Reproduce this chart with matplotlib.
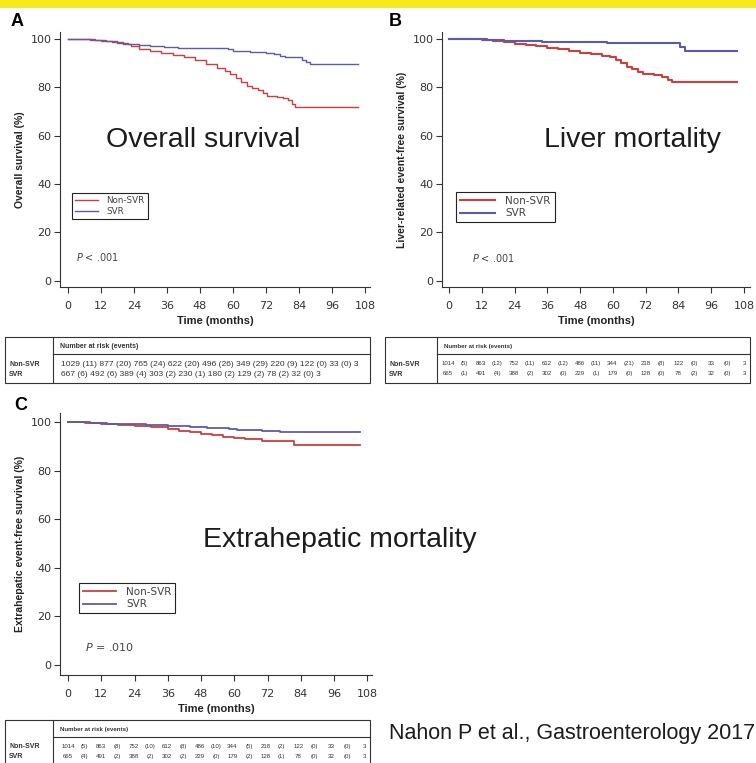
import matplotlib
matplotlib.use("Agg")
import matplotlib.pyplot as plt
from matplotlib.patches import Rectangle

W, H = 756, 763
RED = "#d23c3c"
BLUE = "#5a5aae"
INK = "#333333"

# Kaplan-Meier step points (months, % event-free), one pair per group and panel
months_end = 105.5

os_nonsvr_t = [0, 4, 8, 12, 16, 20, 23, 26, 30, 34, 38, 42, 46, 50, 54, 57, 59, 61, 63, 65, 67, 69, 71, 72.5, 76, 78, 80, 81.5, 82.5]
os_nonsvr_s = [100, 99.8, 99.5, 99.0, 98.4, 97.8, 97.0, 95.8, 95.0, 94.2, 93.2, 92.2, 91.0, 89.6, 88.0, 86.6, 85.4, 83.8, 82.0, 80.4, 79.6, 78.6, 77.6, 76.3, 76.0, 75.4, 74.6, 73.2, 71.7]
os_svr_t = [0, 6, 10, 14, 18, 22, 26, 30, 35, 40, 46, 52, 58, 60, 62, 66, 72, 75, 77, 79, 85, 86.5, 88]
os_svr_s = [100, 99.7, 99.3, 98.8, 98.2, 97.7, 97.3, 96.9, 96.6, 96.3, 96.1, 95.9, 95.6, 95.0, 94.7, 94.5, 94.2, 93.5, 92.8, 92.3, 91.3, 90.4, 89.7]

liver_nonsvr_t = [0, 8, 12, 16, 20, 24, 28, 32, 36, 40, 44, 48, 52, 56, 59, 61, 63, 65, 67, 69, 71, 75, 78, 80, 81.5]
liver_nonsvr_s = [100, 99.8, 99.5, 99.0, 98.5, 97.8, 97.4, 97.0, 96.3, 95.6, 94.8, 94.0, 93.5, 93.0, 92.2, 91.0, 89.8, 88.2, 87.5, 86.4, 85.4, 85.0, 84.2, 83.0, 82.0]
liver_svr_t = [0, 8, 14, 20, 26, 34, 46, 58, 72, 84.5, 86.5]
liver_svr_s = [100, 99.8, 99.4, 99.0, 98.8, 98.6, 98.5, 98.2, 98.1, 96.5, 94.8]

extra_nonsvr_t = [0, 6, 12, 18, 24, 30, 36, 40, 44, 48, 52, 56, 60, 64, 70, 81.5]
extra_nonsvr_s = [100, 99.6, 99.2, 98.8, 98.3, 97.8, 97.0, 96.4, 95.8, 95.2, 94.6, 93.9, 93.4, 92.9, 92.0, 90.4]
extra_svr_t = [0, 8, 14, 20, 28, 36, 44, 50, 58, 61, 70, 76.5]
extra_svr_s = [100, 99.6, 99.2, 99.0, 98.7, 98.4, 98.0, 97.6, 97.2, 96.6, 96.4, 95.7]

# Number at risk (events) tables
os_nonsvr_risk = [1029, 877, 765, 622, 496, 349, 220, 122, 33, 3]
os_nonsvr_events = [11, 20, 24, 20, 26, 29, 9, 0, 0]
os_svr_risk = [667, 492, 389, 303, 230, 180, 129, 78, 32, 3]
os_svr_events = [6, 6, 4, 2, 1, 2, 2, 2, 0]

liver_nonsvr_risk = [1014, 863, 752, 612, 486, 344, 218, 122, 33, 3]
liver_nonsvr_events = [5, 12, 11, 12, 11, 21, 8, 0, 0]
liver_svr_risk = [665, 491, 388, 302, 229, 179, 128, 78, 32, 3]
liver_svr_events = [1, 4, 2, 0, 1, 0, 0, 2, 0]

extra_nonsvr_risk = [1014, 863, 752, 612, 486, 344, 218, 122, 33, 3]
extra_nonsvr_events = [5, 8, 10, 8, 10, 5, 2, 0, 0]
extra_svr_risk = [665, 491, 388, 302, 229, 179, 128, 78, 32, 3]
extra_svr_events = [4, 2, 2, 2, 0, 2, 1, 0, 0]

x_ticks = [0, 12, 24, 36, 48, 60, 72, 84, 96, 108]
y_ticks = [0, 20, 40, 60, 80, 100]


def fx(x):
    return x / W


def fy(y):
    return 1 - y / H


def px_axes(fig, left, top, right, bottom):
    return fig.add_axes([fx(left), fy(bottom), (right - left) / W, (bottom - top) / H])


def km_panel(ax, groups, xlim, ylim, ylabel, lw, tick_fs=8.0):
    for t, s, color, label in groups:
        ax.plot(t + [months_end], s + [s[-1]], drawstyle="steps-post",
                color=color, lw=lw, label=label)
    ax.set_xlim(*xlim)
    ax.set_ylim(*ylim)
    ax.set_xticks(x_ticks)
    ax.set_yticks(y_ticks)
    for side in ("top", "right"):
        ax.spines[side].set_visible(False)
    for side in ("left", "bottom"):
        ax.spines[side].set_color(INK)
        ax.spines[side].set_linewidth(0.8)
    ax.tick_params(axis="x", length=4, width=0.8, color=INK, pad=6,
                   labelsize=tick_fs, labelcolor=INK)
    ax.tick_params(axis="y", length=4, width=0.8, color=INK, pad=2,
                   labelsize=tick_fs, labelcolor=INK)
    ax.set_xlabel("Time (months)", fontsize=8, fontweight="bold",
                  family="Liberation Sans", color="#222222", labelpad=4)
    ax.set_ylabel(ylabel, fontsize=7.5, fontweight="bold",
                  family="Liberation Sans", color="#222222")
    ax.patch.set_alpha(0)


def add_legend(ax, fig, left, top, fs, handlelength):
    leg = ax.legend(loc="upper left", bbox_to_anchor=(fx(left), fy(top)),
                    bbox_transform=fig.transFigure, borderaxespad=0,
                    fontsize=fs, handlelength=handlelength, handletextpad=1.0,
                    labelspacing=0.25, borderpad=0.35, fancybox=False,
                    framealpha=1, edgecolor="#222222")
    leg.get_frame().set_linewidth(0.8)
    for txt in leg.get_texts():
        txt.set_color("#444444")
    return leg


def risk_table(ov, left, top, right, divider, rows, fs, spread, vals_left, vals_right):
    bottom = top + 46
    ov.add_patch(Rectangle((left, top), right - left, bottom - top, fill=False,
                           lw=0.8, ec="#333333"))
    ov.plot([divider, divider], [top, bottom], color="#333333", lw=0.8)
    ov.plot([divider, right], [top + 17, top + 17], color="#333333", lw=0.8)
    ov.text(divider + 7, top + 9, "Number at risk (events)", fontsize=min(fs, 5.0),
            fontweight="bold", family="Liberation Sans", color=INK, va="center_baseline")
    for i, (name, risk, events) in enumerate(rows):
        y = top + 26 + 10 * i
        ov.text(left + 4, y, name, fontsize=5.0, fontweight="bold",
                family="Liberation Sans", color=INK, va="center_baseline")
        items = []
        for k, n in enumerate(risk):
            items.append(str(n))
            if k < len(events):
                items.append(f"({events[k]})")
        if spread:
            step = (vals_right - vals_left) / (len(items) - 1)
            for k, item in enumerate(items):
                ov.text(vals_left + k * step, y, item, fontsize=fs,
                        family="Liberation Sans", color=INK,
                        va="center_baseline", ha="center")
        else:
            parts = [f"{n} ({e})" for n, e in zip(risk, events)] + [str(risk[-1])]
            ov.text(vals_left, y, " ".join(parts), fontsize=fs,
                    family="Liberation Sans", color=INK,
                    va="center_baseline", ha="left")


fig = plt.figure(figsize=(W / 100, H / 100), dpi=100)
fig.patch.set_facecolor("white")

# Panel A: overall survival
ax_a = px_axes(fig, 60, 32, 370, 287)
km_panel(ax_a, [(os_nonsvr_t, os_nonsvr_s, RED, "Non-SVR"),
                (os_svr_t, os_svr_s, BLUE, "SVR")],
         (-2.9, 109.8), (-2.5, 102.7), "Overall survival (%)", 1.0)
add_legend(ax_a, fig, 72, 193, 6.3, 2.6)

# Panel B: liver-related events
ax_b = px_axes(fig, 442, 32, 750, 287)
km_panel(ax_b, [(liver_nonsvr_t, liver_nonsvr_s, RED, "Non-SVR"),
                (liver_svr_t, liver_svr_s, BLUE, "SVR")],
         (-2.6, 110.2), (-2.5, 102.7), "Liver-related event-free survival (%)", 1.5)
add_legend(ax_b, fig, 456, 192, 7.5, 3.4)

# Panel C: extrahepatic events
ax_c = px_axes(fig, 60, 413, 372, 675)
km_panel(ax_c, [(extra_nonsvr_t, extra_nonsvr_s, RED, "Non-SVR"),
                (extra_svr_t, extra_svr_s, BLUE, "SVR")],
         (-2.9, 109.7), (-4.1, 103.7), "Extrahepatic event-free survival (%)", 1.3)
add_legend(ax_c, fig, 79, 583, 7.5, 3.2)

# Overlay in pixel coordinates for labels and tables
ov = fig.add_axes([0, 0, 1, 1], zorder=5)
ov.set_xlim(0, W)
ov.set_ylim(H, 0)
ov.axis("off")
ov.patch.set_alpha(0)

ov.add_patch(Rectangle((0, 0), W, 8, color="#f7ea1a", lw=0))

for letter, x, y in (("A", 11, 21), ("B", 389, 21), ("C", 14, 405)):
    ov.text(x, y, letter, fontsize=13, fontweight="bold", family="Liberation Sans",
            color="black", va="center")

big = dict(fontsize=20.5, family="Liberation Sans", color="#1c1c1c", va="center")
ov.text(203, 140, "Overall survival", ha="center", **big)
ov.text(633, 140, "Liver mortality", ha="center", **big)
ov.text(340, 540, "Extrahepatic mortality", ha="center", **big)

pval = dict(family="DejaVu Sans", color="#444444", va="center")
ov.text(76, 257, r"$\it{P}$ < .001", fontsize=7, **pval)
ov.text(472, 258, r"$\it{P}$ < .001", fontsize=7, **pval)
ov.text(85, 647, r"$\it{P}$ = .010", fontsize=8, **pval)

ov.text(389, 733, "Nahon P et al., Gastroenterology 2017", fontsize=15.5,
        family="Liberation Sans", color="#1c1c1c", va="center", ha="left")

risk_table(ov, 5, 337, 370, 53,
           [("Non-SVR", os_nonsvr_risk, os_nonsvr_events),
            ("SVR", os_svr_risk, os_svr_events)],
           6.1, False, 61, 365)
risk_table(ov, 385, 337, 750, 437,
           [("Non-SVR", liver_nonsvr_risk, liver_nonsvr_events),
            ("SVR", liver_svr_risk, liver_svr_events)],
           4.4, True, 448, 744)
risk_table(ov, 5, 720, 370, 53,
           [("Non-SVR", extra_nonsvr_risk, extra_nonsvr_events),
            ("SVR", extra_svr_risk, extra_svr_events)],
           4.4, True, 68, 364)

fig.savefig("out.png", dpi=100)
